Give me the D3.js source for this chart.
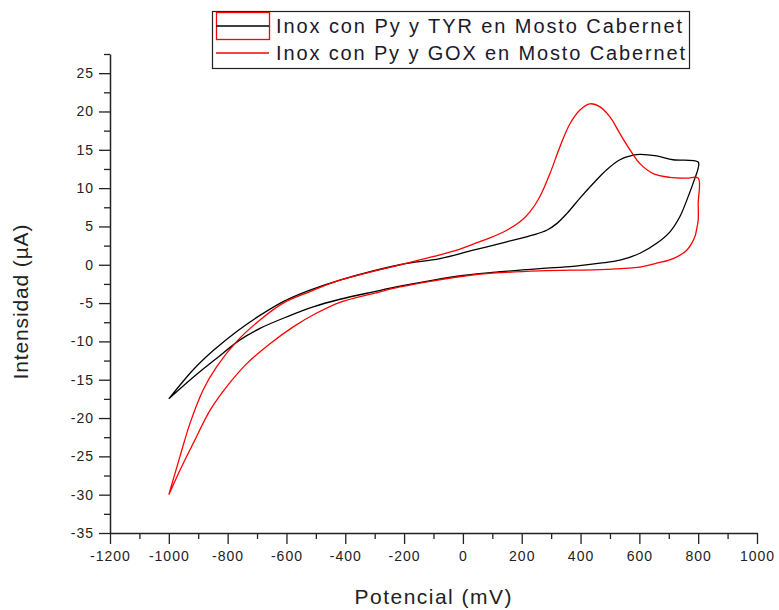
<!DOCTYPE html>
<html>
<head>
<meta charset="utf-8">
<script src="https://cdnjs.cloudflare.com/ajax/libs/d3/7.8.5/d3.min.js"></script>
<style>
  body { margin: 0; background: #fff; }
  svg { display: block; font-family: "Liberation Sans", Arial, sans-serif; }
</style>
</head>
<body>
<svg id="chart" width="779" height="610"></svg>
<script>
// series labels
const seriesNames = [
  'Inox con Py y TYR en Mosto Cabernet',
  'Inox con Py y GOX en Mosto Cabernet'
];
const seriesColors = ['#000000', '#ff0000'];

// TYR: forward scan (-1000 -> 800) then reverse (800 -> -1000), [mV, uA]
const tyrPotential = [
  -1000, -917, -849, -769, -690, -611, -520, -418, -214, -78, 35, 149, 240, 285, 320, 354, 398, 443, 489, 534, 579, 602, 659, 715, 800,
  800, 789, 761, 738, 704, 659, 602, 534, 466, 375, 262, 100, 0, -100, -214, -300, -418, -509, -599, -690, -758, -837, -905, -1000
];
const tyrCurrent = [
  -17.5, -13.7, -11.2, -8.7, -6.6, -4.8, -3.3, -2.0, 0.0, 0.8, 1.9, 3.0, 3.9, 4.5, 5.4, 6.7, 8.7, 10.6, 12.4, 13.7, 14.3, 14.4, 14.2, 13.7, 13.4,
  12.6, 11.3, 8.4, 6.3, 4.3, 2.8, 1.5, 0.6, 0.2, -0.2, -0.5, -1.0, -1.4, -2.0, -2.8, -3.5, -4.5, -5.5, -6.8, -8.3, -9.8, -12.2, -14.3, -17.5
];

// GOX: forward scan then reverse, [mV, uA]
const goxPotential = [
  -1000, -962, -928, -883, -837, -769, -690, -611, -520, -418, -214, -78, -21, 35, 92, 149, 194, 228, 262, 296, 330, 364, 398, 432, 466, 500, 534, 568, 602, 647, 704, 761, 800,
  800, 800, 794, 789, 761, 715, 659, 602, 489, 262, 100, 0, -100, -214, -300, -418, -497, -577, -656, -735, -803, -860, -917, -962, -1000
];
const goxCurrent = [
  -30.0, -25.0, -20.7, -16.3, -13.3, -10.0, -7.2, -5.0, -3.5, -2.0, 0.0, 1.3, 1.9, 2.7, 3.5, 4.5, 5.6, 6.9, 8.9, 11.9, 15.4, 18.4, 20.2, 21.0, 20.6, 19.3, 17.1, 15.0, 13.2, 11.9, 11.4, 11.3, 11.3,
  8.0, 5.8, 4.5, 3.7, 1.9, 0.8, 0.2, -0.3, -0.6, -0.8, -1.1, -1.5, -2.1, -2.9, -3.7, -4.9, -6.3, -8.1, -10.3, -12.9, -15.9, -19.0, -23.3, -26.8, -30.0
];

const xTicks = d3.range(-1200, 1001, 200);
const yTicks = d3.range(-35, 26, 5);

const svg = d3.select('#chart');
const margin = { left: 110, right: 757, top: 54, bottom: 533 };

const scaleX = d3.scaleLinear().domain([-1200, 1000]).range([margin.left, margin.right]);
const scaleY = d3.scaleLinear().domain([-35, 27.5]).range([margin.bottom, margin.top]);

// minor ticks first (no labels)
svg.append('g')
  .attr('transform', `translate(0,${margin.bottom})`)
  .call(d3.axisBottom(scaleX).tickValues(d3.range(-1100, 1000, 200)).tickSize(6).tickFormat(''))
  .call(g => g.select('.domain').remove())
  .call(g => g.selectAll('line').attr('stroke', '#222').attr('stroke-width', 1.3));

svg.append('g')
  .attr('transform', `translate(${margin.left},0)`)
  .call(d3.axisLeft(scaleY).tickValues(d3.range(-32.5, 28, 5)).tickSize(6).tickFormat(''))
  .call(g => g.select('.domain').remove())
  .call(g => g.selectAll('line').attr('stroke', '#222').attr('stroke-width', 1.3));

// major axes
const xAxis = svg.append('g')
  .attr('transform', `translate(0,${margin.bottom})`)
  .call(d3.axisBottom(scaleX).tickValues(xTicks).tickSize(11).tickPadding(7).tickSizeOuter(0)
    .tickFormat(d => String(d)));
const yAxis = svg.append('g')
  .attr('transform', `translate(${margin.left},0)`)
  .call(d3.axisLeft(scaleY).tickValues(yTicks).tickSize(11).tickPadding(5).tickSizeOuter(0)
    .tickFormat(d => String(d)));

[xAxis, yAxis].forEach(ax => {
  ax.select('.domain').attr('stroke', '#222').attr('stroke-width', 1.5);
  ax.selectAll('line').attr('stroke', '#222').attr('stroke-width', 1.3);
  ax.selectAll('text')
    .attr('font-family', '"Liberation Sans", Arial, sans-serif')
    .attr('font-size', 14)
    .attr('fill', '#222')
    .attr('letter-spacing', '1px');
});

// axis titles
svg.append('text')
  .attr('x', 433).attr('y', 604)
  .attr('text-anchor', 'middle')
  .attr('font-size', 21).attr('fill', '#222')
  .attr('textLength', 157).attr('lengthAdjust', 'spacing')
  .text('Potencial (mV)');

svg.append('text')
  .attr('transform', 'translate(28,302) rotate(-90)')
  .attr('text-anchor', 'middle')
  .attr('font-size', 21).attr('fill', '#222')
  .attr('textLength', 155).attr('lengthAdjust', 'spacing')
  .text('Intensidad (\u00b5A)');

// curves
const line = d3.line()
  .x(d => scaleX(d[0]))
  .y(d => scaleY(d[1]))
  .curve(d3.curveCatmullRom.alpha(0.5));

const series = [
  d3.zip(tyrPotential, tyrCurrent),
  d3.zip(goxPotential, goxCurrent)
];

svg.append('g').selectAll('path')
  .data(series)
  .join('path')
  .attr('d', line)
  .attr('fill', 'none')
  .attr('stroke', (d, i) => seriesColors[i])
  .attr('stroke-width', 1.3);

// legend
const $legend = svg.append('g');
$legend.append('rect')
  .attr('x', 212.5).attr('y', 11.5).attr('width', 477).attr('height', 57)
  .attr('fill', '#fff').attr('stroke', '#222').attr('stroke-width', 1.2);
$legend.append('rect')
  .attr('x', 216.5).attr('y', 12.5).attr('width', 53).attr('height', 27)
  .attr('fill', 'none').attr('stroke', '#ff0000').attr('stroke-width', 1.3);

const legendRows = [26, 53];
const legendText = [406, 409];
seriesNames.forEach((name, i) => {
  $legend.append('line')
    .attr('x1', 216).attr('x2', 269)
    .attr('y1', legendRows[i]).attr('y2', legendRows[i])
    .attr('stroke', seriesColors[i]).attr('stroke-width', 1.5);
  $legend.append('text')
    .attr('x', 276).attr('y', legendRows[i] + 7)
    .attr('font-size', 20).attr('fill', '#1a1a2a')
    .attr('textLength', legendText[i]).attr('lengthAdjust', 'spacing')
    .text(name);
});
</script>
</body>
</html>
